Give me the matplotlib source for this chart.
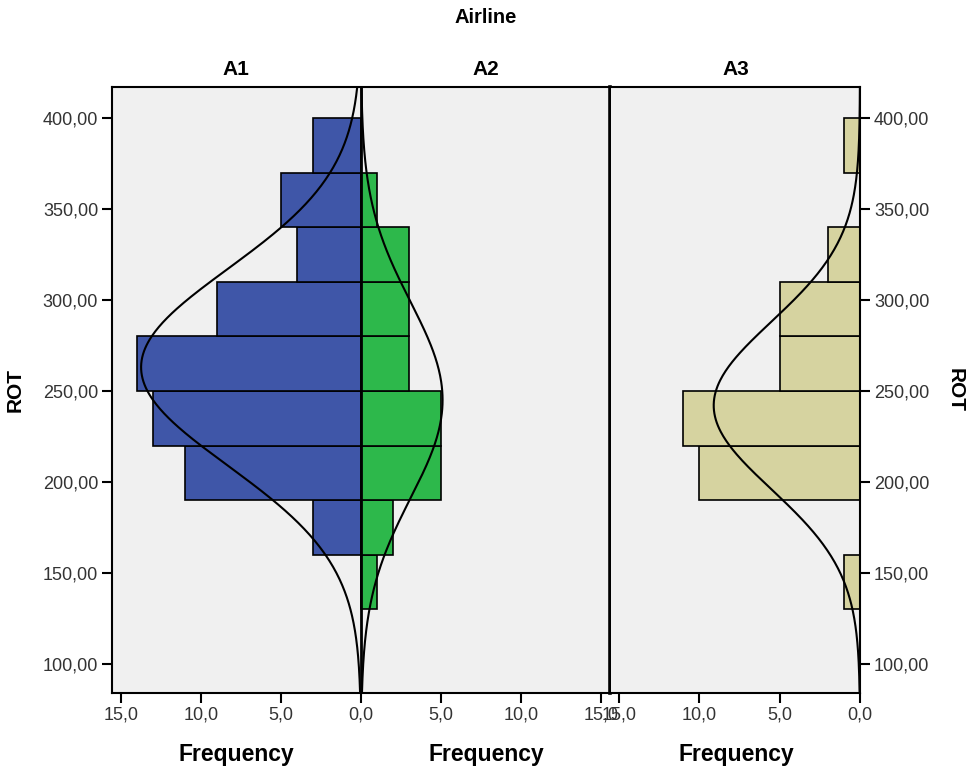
import matplotlib
matplotlib.use("Agg")
import matplotlib.pyplot as plt
import numpy as np

plt.rcParams['font.family'] = ['Liberation Sans', 'DejaVu Sans']

# ROT bins (width 30)
bin_edges = [130, 160, 190, 220, 250, 280, 310, 340, 370, 400]
bin_width = 30

# frequencies per bin, bottom to top
freq_a1 = [0, 3, 11, 13, 14, 9, 4, 5, 3]
freq_a2 = [1, 2, 5, 5, 3, 3, 3, 1, 0]
freq_a3 = [1, 0, 10, 11, 5, 5, 2, 0, 1]

# normal curve parameters (mean, sd)
norm_a1 = (263, 54)
norm_a2 = (245, 54)
norm_a3 = (242, 46)

col_a1 = '#3F56A8'
col_a2 = '#2DB84B'
col_a3 = '#D6D3A0'
bg = '#F0F0F0'

YLIM = (84, 417)
yticks = [100, 150, 200, 250, 300, 350, 400]


def normal_curve(y, freqs, params):
    mu, sd = params
    n = sum(freqs)
    return n * bin_width / (sd * np.sqrt(2 * np.pi)) * np.exp(-0.5 * ((y - mu) / sd) ** 2)


def fmt_y(v):
    return f"{v:.2f}".replace('.', ',')


def fmt_x(v):
    return f"{abs(v):.1f}".replace('.', ',')


fig = plt.figure(figsize=(9.73, 7.68), dpi=100)
ax1 = fig.add_axes([112 / 973, 75 / 768, 498 / 973, 606 / 768])
ax2 = fig.add_axes([611 / 973, 75 / 768, 249 / 973, 606 / 768])

lows = np.array(bin_edges[:-1])
yy = np.linspace(YLIM[0], YLIM[1], 400)

# A1 (left) and A2 (right) share one panel
ax1.barh(lows, -np.array(freq_a1), height=bin_width, align='edge',
         color=col_a1, edgecolor='black', linewidth=1.2, zorder=2)
ax1.barh(lows, freq_a2, height=bin_width, align='edge',
         color=col_a2, edgecolor='black', linewidth=1.2, zorder=2)
ax1.plot(-normal_curve(yy, freq_a1, norm_a1), yy, color='black', lw=1.5, zorder=3)
ax1.plot(normal_curve(yy, freq_a2, norm_a2), yy, color='black', lw=1.5, zorder=3)
ax1.axvline(0, color='black', lw=2, zorder=4)
ax1.set_xlim(-15.56, 15.56)
ax1.set_ylim(*YLIM)
xt1 = [-15, -10, -5, 0, 5, 10, 15]
ax1.set_xticks(xt1)
ax1.set_xticklabels([fmt_x(v) for v in xt1])
ax1.set_yticks(yticks)
ax1.set_yticklabels([fmt_y(v) for v in yticks])

# A3
ax2.barh(lows, freq_a3, height=bin_width, align='edge',
         color=col_a3, edgecolor='black', linewidth=1.2, zorder=2)
ax2.plot(normal_curve(yy, freq_a3, norm_a3), yy, color='black', lw=1.5, zorder=3)
ax2.set_xlim(15.5, 0)
ax2.set_ylim(*YLIM)
xt2 = [15, 10, 5, 0]
ax2.set_xticks(xt2)
ax2.set_xticklabels([fmt_x(v) for v in xt2])
ax2.set_yticks(yticks)
ax2.set_yticklabels([fmt_y(v) for v in yticks])
ax2.yaxis.tick_right()

for ax in (ax1, ax2):
    ax.set_facecolor(bg)
    for s in ax.spines.values():
        s.set_color('black')
        s.set_linewidth(1.5)
    ax.tick_params(axis='both', direction='out', length=7, width=1.5,
                   labelsize=13, labelcolor='#333333', pad=3)
ax1.spines['right'].set_linewidth(2.6)
ax2.spines['left'].set_visible(False)

fig.text(0.4995, 0.977, 'Airline', ha='center', va='center', fontsize=14.5, fontweight='bold')
for x, lab in [(236, 'A1'), (486, 'A2'), (736, 'A3')]:
    fig.text(x / 973, 0.909, lab, ha='center', va='center', fontsize=15, fontweight='bold')
    fig.text(x / 973, 0.018, 'Frequency', ha='center', va='center', fontsize=16.5, fontweight='bold')
fig.text(15 / 973, 0.492, 'ROT', rotation=90, ha='center', va='center', fontsize=15, fontweight='bold')
fig.text(955 / 973, 0.492, 'ROT', rotation=-90, ha='center', va='center', fontsize=15, fontweight='bold')

fig.savefig('out.png', dpi=100)
